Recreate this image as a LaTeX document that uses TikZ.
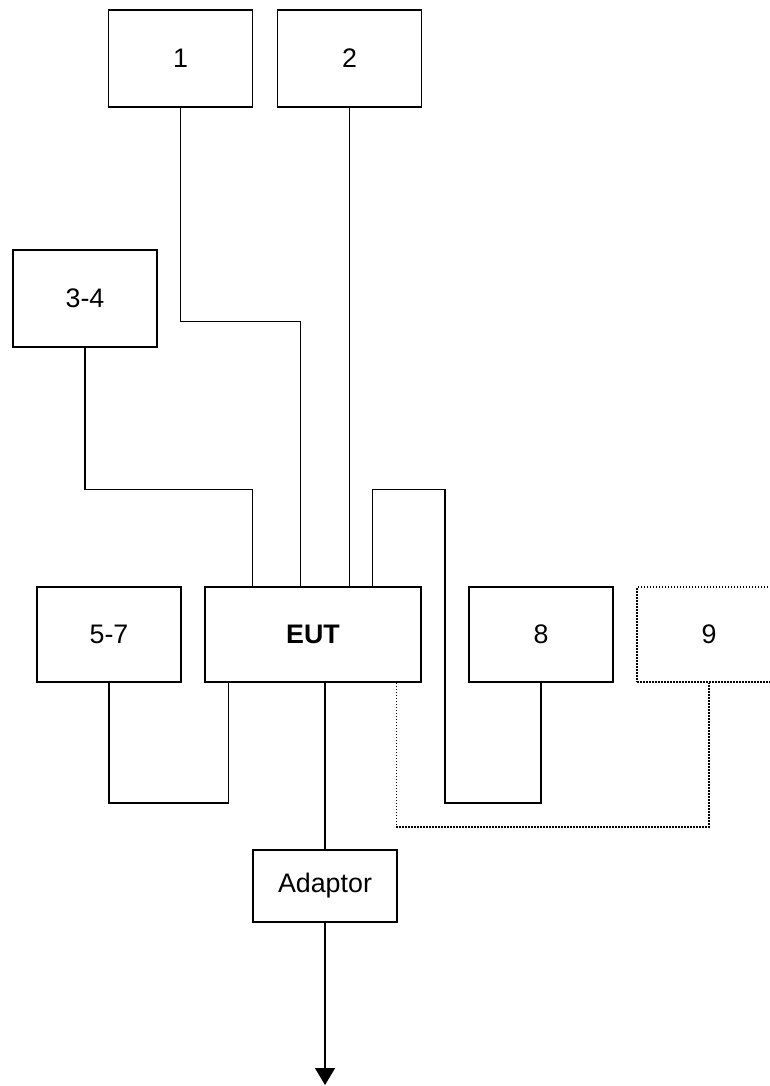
\documentclass[tikz,border=0pt]{standalone}
\usepackage{fontspec}
\setmainfont{Liberation Sans}
\usetikzlibrary{calc,arrows.meta}
\tikzset{
	unitbox/.style={draw, line width=0.75pt, minimum width=72pt, minimum height=47.5pt, inner sep=0pt, font=\fontsize{13.4}{16}\selectfont},
	dotline/.style={line width=0.75pt, dash pattern=on 0.75pt off 0.75pt}
}

\begin{document}
\begin{tikzpicture}[x=0.5pt, y=-0.5pt, line width=0.75pt]
		%%%%% START %%%%%
		\useasboundingbox (0,0) rectangle (770,1086);
		\clip (0,0) rectangle (770,1086);
		
		\node[unitbox, minimum height=48.5pt] (n1) at (180.5, 58.5) {1};
		\node[unitbox, minimum height=48.5pt] (n2) at (349.5, 58.5) {2};
		\node[unitbox, minimum height=48.5pt] (n34) at (85, 298.5) {3-4};
		
		\node[unitbox] (n57) at (109, 634.5) {5-7};
		\node[unitbox, minimum width=108pt] (eut) at (313, 634.5) {\textbf{EUT}};
		\node[unitbox] (n8) at (541, 634.5) {8};
		\node[unitbox, dotline] (n9) at (709, 634.5) {9};
		
		\node[unitbox, minimum height=36pt] (adaptor) at (325, 886) {Adaptor};
		
		\draw (n1.south) |- ($(eut.north west)+(96,-265)$) -- ($(eut.north west)+(96,0)$);
		\draw (n2.south) -- (n2.south |- eut.north);
		\draw (n34.south) |- ($(eut.north west)+(48,-97)$) -- ($(eut.north west)+(48,0)$);
		
		\draw ($(eut.north west)+(168,0)$) -- ++(0,-97) -| ($(n8.south)+(-96,120)$) -- ($(n8.south)+(0,120)$) -- (n8.south);
		\draw (n57.south) |- ($(eut.south west)+(24,120)$) -- ($(eut.south west)+(24,0)$);
		\draw[dotline] ($(eut.south west)+(192,0)$) |- ($(n9.south)+(0,144)$) -- (n9.south);
		
		\draw (adaptor.north |- eut.south) -- (adaptor.north);
		\coordinate (out) at (325, 1085);
		\draw[-{Triangle[width=10pt, length=8.5pt]}] (adaptor.south) -- (out);
		
		%%%%% END %%%%%
	\end{tikzpicture}
\end{document}
